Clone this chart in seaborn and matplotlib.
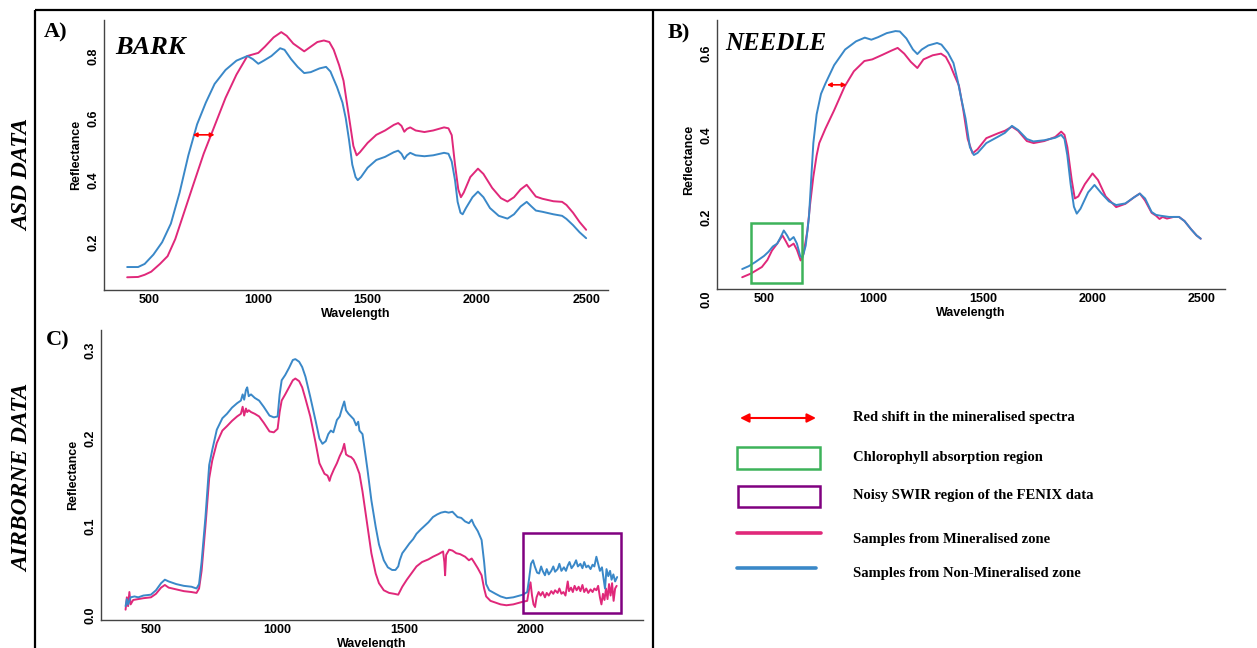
import numpy as np
import pandas as pd
import matplotlib
matplotlib.use("Agg")
import matplotlib.pyplot as plt
from matplotlib.patches import Rectangle, FancyArrowPatch
from matplotlib.lines import Line2D
import seaborn as sns

# ---------------- data ----------------
# Panel A: bark spectra (ASD)
bark_min_wl = [400, 450, 480, 510, 550, 585, 620, 660, 700, 750, 800, 850, 900, 950, 975, 1000,
               1030, 1070, 1105, 1130, 1160, 1210, 1240, 1270, 1300, 1325, 1345, 1370, 1390, 1405,
               1420, 1435, 1450, 1465, 1500, 1540, 1580, 1620, 1640, 1655, 1668, 1680, 1695, 1720,
               1760, 1800, 1850, 1870, 1885, 1900, 1915, 1927, 1940, 1970, 2005, 2030, 2070, 2110,
               2140, 2170, 2200, 2228, 2250, 2270, 2300, 2350, 2390, 2410, 2440, 2470, 2500]
bark_min_rf = [.087, .088, .095, .105, .13, .155, .21, .295, .38, .485, .575, .665, .74, .80, .805, .81,
               .83, .86, .877, .865, .84, .815, .83, .845, .85, .845, .82, .77, .72, .65,
               .58, .51, .48, .49, .52, .546, .56, .578, .584, .575, .556, .565, .57, .56,
               .555, .56, .57, .567, .545, .45, .37, .345, .36, .41, .437, .42, .375, .342,
               .331, .345, .37, .385, .365, .347, .34, .332, .33, .32, .295, .265, .24]
bark_non_wl = [400, 450, 480, 520, 560, 600, 640, 680, 720, 760, 800, 850, 900, 950, 975, 1000,
               1025, 1060, 1100, 1120, 1150, 1180, 1210, 1240, 1280, 1310, 1330, 1360, 1385, 1400,
               1415, 1430, 1445, 1455, 1470, 1500, 1540, 1580, 1620, 1640, 1655, 1668, 1680, 1695,
               1720, 1760, 1800, 1850, 1870, 1885, 1900, 1912, 1925, 1935, 1950, 1980, 2005, 2030,
               2060, 2100, 2140, 2170, 2200, 2228, 2250, 2270, 2300, 2350, 2390, 2410, 2440, 2470, 2500]
bark_non_rf = [.12, .12, .13, .16, .20, .26, .36, .48, .58, .65, .71, .755, .785, .80, .79, .775,
               .785, .80, .825, .82, .79, .765, .745, .748, .76, .765, .75, .70, .65, .60,
               .53, .45, .41, .40, .41, .44, .465, .475, .49, .495, .485, .468, .48, .488,
               .48, .477, .48, .488, .485, .46, .40, .33, .295, .29, .31, .345, .363, .345,
               .31, .285, .276, .29, .315, .33, .315, .302, .298, .29, .285, .275, .255, .232, .213]

# Panel B: needle spectra (ASD)
needle_min_wl = [400, 440, 490, 515, 536, 560, 584, 600, 613, 635, 650, 667, 680, 698, 710, 725,
                 740, 752, 780, 820, 868, 910, 958, 994, 1040, 1080, 1110, 1140, 1170, 1200, 1228,
                 1270, 1308, 1330, 1350, 1371, 1390, 1410, 1430, 1452, 1475, 1515, 1569, 1600, 1632,
                 1660, 1700, 1731, 1780, 1830, 1857, 1872, 1885, 1905, 1919, 1935, 1965, 2000, 2025,
                 2060, 2108, 2150, 2190, 2216, 2240, 2270, 2290, 2306, 2320, 2340, 2370, 2395, 2420,
                 2450, 2475, 2494]
needle_min_rf = [.053, .062, .078, .095, .118, .135, .155, .14, .127, .135, .12, .094, .11, .167, .23, .298,
                 .35, .38, .415, .46, .518, .555, .58, .584, .595, .605, .612, .598, .578, .563, .584,
                 .594, .598, .59, .57, .543, .52, .46, .39, .355, .365, .392, .404, .41, .42,
                 .41, .385, .38, .385, .395, .408, .40, .37, .29, .245, .25, .28, .306, .29,
                 .25, .224, .232, .248, .257, .24, .21, .203, .195, .20, .196, .20, .20, .19,
                 .17, .155, .147]
needle_non_wl = [400, 430, 460, 500, 520, 540, 560, 575, 590, 605, 617, 635, 650, 665, 675, 690,
                 705, 715, 725, 740, 760, 780, 820, 870, 920, 960, 990, 1020, 1060, 1100, 1120,
                 1150, 1180, 1200, 1220, 1250, 1290, 1310, 1340, 1365, 1385, 1400, 1420, 1440, 1458,
                 1475, 1515, 1570, 1600, 1632, 1660, 1700, 1730, 1780, 1830, 1857, 1872, 1885, 1900,
                 1915, 1928, 1945, 1980, 2009, 2040, 2075, 2108, 2150, 2190, 2216, 2240, 2270, 2290,
                 2310, 2350, 2395, 2420, 2450, 2475, 2494]
needle_non_rf = [.073, .08, .09, .105, .115, .128, .135, .15, .167, .155, .143, .151, .135, .105, .10, .13,
                 .20, .29, .38, .45, .50, .525, .57, .608, .628, .637, .632, .638, .648, .653, .652,
                 .635, .608, .597, .608, .618, .624, .62, .60, .575, .53, .49, .44, .37, .351,
                 .356, .38, .396, .405, .422, .412, .39, .384, .387, .393, .40, .39, .35, .28,
                 .225, .208, .22, .26, .278, .258, .238, .229, .233, .248, .257, .245, .212, .205,
                 .203, .20, .20, .19, .17, .155, .147]

# Panel C: airborne spectra (FENIX)
air_min_wl = [400, 405, 410, 415, 420, 430, 450, 470, 500, 520, 540, 555, 570, 600, 630, 660, 680, 690,
              700, 715, 730, 742, 760, 782, 800, 820, 840, 855, 862, 868, 875, 880, 886, 895, 910, 927,
              945, 968, 985, 1000, 1008, 1016, 1030, 1045, 1060, 1070, 1085, 1097, 1110, 1129, 1150,
              1165, 1185, 1197, 1205, 1210, 1222, 1234, 1245, 1255, 1263, 1270, 1280, 1290, 1300,
              1310, 1323, 1335, 1345, 1355, 1370, 1387, 1400, 1419, 1440, 1460, 1476, 1485, 1492,
              1510, 1530, 1548, 1570, 1595, 1613, 1635, 1653, 1658, 1661, 1665, 1677, 1690, 1705,
              1720, 1740, 1755, 1766, 1775, 1790, 1805, 1815, 1823, 1840, 1860, 1880, 1903, 1930,
              1968, 1985, 1993, 1998, 2004, 2010, 2016, 2022, 2030, 2038, 2046, 2055, 2062, 2070,
              2080, 2088, 2095, 2105, 2112, 2120, 2128, 2136, 2145, 2150, 2158, 2165, 2172, 2180,
              2188, 2195, 2203, 2210, 2218, 2226, 2235, 2243, 2250, 2258, 2265, 2272, 2278, 2284,
              2290, 2296, 2302, 2308, 2314, 2320, 2326, 2332, 2338]
air_min_rf = [.006, .02, .01, .026, .012, .017, .018, .019, .02, .024, .031, .034, .031, .029, .027, .026, .025, .03,
              .05, .10, .155, .175, .195, .209, .214, .22, .225, .228, .236, .226, .234, .23, .232, .23, .228, .225,
              .218, .208, .207, .211, .23, .243, .25, .258, .266, .268, .265, .258, .245, .225, .195,
              .172, .16, .158, .152, .157, .165, .172, .18, .186, .194, .182, .18, .179, .176,
              .17, .16, .14, .12, .10, .07, .047, .036, .028, .025, .024, .023, .028, .032,
              .04, .048, .055, .06, .063, .066, .069, .072, .06, .045, .068, .074, .073, .07,
              .069, .066, .062, .064, .06, .053, .045, .03, .021, .016, .014, .012, .011, .012,
              .015, .016, .03, .037, .022, .012, .009, .02, .026, .022, .026, .02, .025, .022,
              .027, .024, .028, .025, .03, .024, .026, .022, .038, .027, .031, .026, .033, .028,
              .032, .027, .034, .026, .03, .025, .029, .026, .03, .028, .033, .02, .012, .024,
              .017, .03, .018, .035, .022, .036, .016, .03, .033]
air_non_wl = [400, 405, 410, 420, 435, 450, 470, 500, 520, 540, 555, 570, 600, 630, 660, 680, 690, 700,
              715, 730, 742, 760, 782, 800, 820, 840, 855, 862, 868, 875, 880, 886, 895, 910, 927, 945,
              968, 985, 1000, 1008, 1016, 1030, 1045, 1060, 1070, 1085, 1097, 1110, 1129, 1150, 1165,
              1177, 1190, 1200, 1210, 1220, 1234, 1245, 1255, 1263, 1270, 1280, 1290, 1300, 1310,
              1318, 1323, 1335, 1345, 1355, 1370, 1387, 1400, 1419, 1435, 1452, 1465, 1476, 1482,
              1492, 1505, 1520, 1535, 1548, 1565, 1580, 1595, 1613, 1630, 1645, 1661, 1675, 1690,
              1700, 1710, 1725, 1740, 1755, 1766, 1775, 1790, 1805, 1815, 1823, 1835, 1860, 1880,
              1903, 1930, 1968, 1985, 1992, 2000, 2008, 2015, 2024, 2032, 2040, 2046, 2055, 2062,
              2070, 2080, 2088, 2095, 2105, 2112, 2120, 2130, 2138, 2145, 2152, 2160, 2170, 2178,
              2185, 2195, 2203, 2210, 2218, 2226, 2235, 2243, 2250, 2258, 2265, 2272, 2280, 2286,
              2292, 2298, 2305, 2312, 2318, 2325, 2332, 2340]
air_non_rf = [.010, .018, .012, .02, .021, .02, .022, .023, .028, .036, .040, .038, .035, .033, .032, .030, .035, .06,
              .11, .17, .187, .21, .223, .228, .235, .24, .243, .25, .244, .255, .258, .248, .25, .246, .243, .236,
              .226, .224, .225, .25, .266, .272, .28, .289, .29, .287, .281, .27, .247, .22, .20,
              .194, .197, .205, .209, .207, .221, .225, .235, .242, .232, .228, .225, .222, .215,
              .219, .209, .205, .185, .164, .13, .10, .08, .062, .054, .051, .051, .055, .062,
              .07, .075, .081, .086, .092, .097, .101, .105, .111, .114, .116, .117, .116, .117,
              .114, .111, .11, .106, .104, .108, .102, .095, .085, .06, .035, .028, .024, .021,
              .019, .02, .023, .026, .04, .058, .062, .055, .048, .047, .055, .05, .045, .052,
              .046, .05, .055, .049, .052, .058, .05, .054, .05, .056, .06, .053, .057, .062,
              .055, .058, .053, .06, .054, .056, .052, .057, .055, .066, .058, .05, .054, .042,
              .03, .052, .044, .05, .04, .046, .038, .043]

zones = ["Samples from Mineralised zone", "Samples from Non-Mineralised zone"]
zone_colors = {zones[0]: "#E0287A", zones[1]: "#3A88C8"}

legend_labels = ["Red shift in the mineralised spectra",
                 "Chlorophyll absorption region",
                 "Noisy SWIR region of the FENIX data",
                 zones[0],
                 zones[1]]


def spectra_frame(min_wl, min_rf, non_wl, non_rf):
    a = pd.DataFrame({"Wavelength": min_wl, "Reflectance": min_rf, "Zone": zones[0]})
    b = pd.DataFrame({"Wavelength": non_wl, "Reflectance": non_rf, "Zone": zones[1]})
    return pd.concat([a, b], ignore_index=True)


# ---------------- figure ----------------
sns.set_theme(style="white")
plt.rcParams["font.family"] = ["Liberation Sans", "DejaVu Sans"]
plt.rcParams["text.color"] = "black"
plt.rcParams["axes.labelcolor"] = "black"

W, H = 1257, 648
fig = plt.figure(figsize=(W / 100, H / 100), dpi=100)


def px_axes(left, top, right, bottom):
    return fig.add_axes([left / W, 1 - bottom / H, (right - left) / W, (bottom - top) / H])


def style_axes(ax, xlim, ylim, yticks, xticks):
    ax.set_xlim(*xlim)
    ax.set_ylim(*ylim)
    ax.set_xticks(xticks)
    ax.set_yticks(yticks)
    ax.set_xticklabels([str(t) for t in xticks], fontsize=9, fontweight="bold")
    ax.set_yticklabels([f"{t:.1f}" for t in yticks], fontsize=9, fontweight="bold",
                       rotation=90, va="center")
    for s in ["top", "right"]:
        ax.spines[s].set_visible(False)
    for s in ["left", "bottom"]:
        ax.spines[s].set_color("#444444")
        ax.spines[s].set_linewidth(1.0)
    ax.tick_params(axis="both", length=0, pad=3, colors="black")
    ax.set_xlabel("Wavelength", fontsize=9, fontweight="bold", labelpad=1)
    ax.set_ylabel("Reflectance", fontsize=9, fontweight="bold", labelpad=4)
    ax.set_facecolor("none")


def draw_spectra(ax, df):
    sns.lineplot(data=df, x="Wavelength", y="Reflectance", hue="Zone", palette=zone_colors,
                 estimator=None, sort=False, linewidth=1.4, legend=False, ax=ax)


shift_arrow = dict(arrowstyle="<|-|>", color="red", lw=1.2, mutation_scale=6, shrinkA=0, shrinkB=0)

# A) bark
axA = px_axes(104, 20, 608, 290)
draw_spectra(axA, spectra_frame(bark_min_wl, bark_min_rf, bark_non_wl, bark_non_rf))
style_axes(axA, (294, 2600), (0.046, 0.916), [0.2, 0.4, 0.6, 0.8], [500, 1000, 1500, 2000, 2500])
axA.annotate("", xy=(700, 0.546), xytext=(800, 0.546), arrowprops=shift_arrow)

# B) needle: x axis line sits slightly above the 0.0 reflectance level
axB = px_axes(717, 20, 1225, 299)
draw_spectra(axB, spectra_frame(needle_min_wl, needle_min_rf, needle_non_wl, needle_non_rf))
axB.spines["bottom"].set_position(("data", 0.024))
style_axes(axB, (285, 2605), (0.0, 0.68), [0.0, 0.2, 0.4, 0.6], [500, 1000, 1500, 2000, 2500])
axB.spines["left"].set_bounds(0.024, 0.68)
axB.annotate("", xy=(787, 0.522), xytext=(877, 0.522), arrowprops=shift_arrow)
axB.add_patch(Rectangle((441, 0.038), 233, 0.147, fill=False, edgecolor="#3DB35A", lw=1.8, zorder=5))

# C) airborne
axC = px_axes(101, 330, 643, 620)
draw_spectra(axC, spectra_frame(air_min_wl, air_min_rf, air_non_wl, air_non_rf))
style_axes(axC, (303, 2442), (-0.0057, 0.323), [0.0, 0.1, 0.2, 0.3], [500, 1000, 1500, 2000])
axC.add_patch(Rectangle((1968, 0.002), 387, 0.091, fill=False, edgecolor="#800080", lw=1.8, zorder=5))

# overlay in pixel coordinates for frame lines, headings and key
ov = fig.add_axes([0, 0, 1, 1])
ov.set_xlim(0, W)
ov.set_ylim(H, 0)
ov.axis("off")
ov.patch.set_alpha(0)

frame_kw = dict(color="black", lw=1.6, solid_capstyle="butt")
ov.add_line(Line2D([35, W], [10, 10], **frame_kw))
ov.add_line(Line2D([35, 35], [10, H], **frame_kw))
ov.add_line(Line2D([653, 653], [10, H], **frame_kw))

serif = ["Liberation Serif", "DejaVu Serif"]
ov.text(23, 175, "ASD DATA", rotation=90, ha="center", va="center", fontsize=17,
        fontweight="bold", fontstyle="italic", family=serif)
ov.text(23, 478, "AIRBORNE DATA", rotation=90, ha="center", va="center", fontsize=17,
        fontweight="bold", fontstyle="italic", family=serif)

ov.text(44, 32, "A)", ha="left", va="center", fontsize=16, fontweight="bold", family=serif)
ov.text(668, 33, "B)", ha="left", va="center", fontsize=16, fontweight="bold", family=serif)
ov.text(46, 340, "C)", ha="left", va="center", fontsize=16, fontweight="bold", family=serif)
ov.text(115, 48, "BARK", ha="left", va="center", fontsize=19, fontweight="bold",
        fontstyle="italic", family=serif)
ov.text(725, 44, "NEEDLE", ha="left", va="center", fontsize=18, fontweight="bold",
        fontstyle="italic", family=serif)

# key
ov.add_patch(FancyArrowPatch((740, 418), (816, 418), arrowstyle="<|-|>", color="red",
                             lw=1.5, mutation_scale=13, shrinkA=0, shrinkB=0))
ov.add_patch(Rectangle((737, 447), 83, 22, fill=False, edgecolor="#3DB35A", lw=1.8))
ov.add_patch(Rectangle((738, 486), 82, 21, fill=False, edgecolor="#800080", lw=1.8))
ov.add_line(Line2D([737, 821], [533, 533], color=zone_colors[zones[0]], lw=2.6))
ov.add_line(Line2D([737, 816], [568, 568], color=zone_colors[zones[1]], lw=2.6))
for label, y in zip(legend_labels, [418, 457, 496, 539, 573]):
    ov.text(853, y, label, ha="left", va="center", fontsize=10.5, fontweight="bold", family=serif)

fig.savefig("out.png", dpi=100)
